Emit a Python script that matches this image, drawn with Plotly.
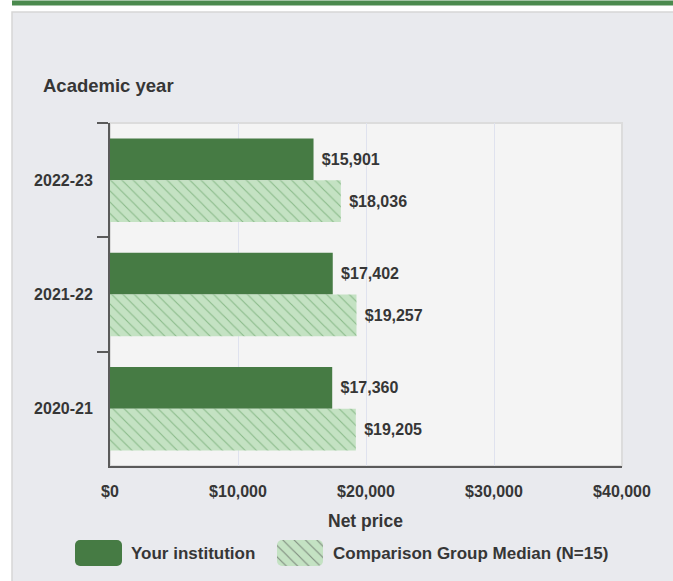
import plotly.graph_objects as go

# ---- data ----
years = ["2022-23", "2021-22", "2020-21"]
your_institution = [15901, 17402, 17360]
comparison_median = [18036, 19257, 19205]
series_names = ["Your institution", "Comparison Group Median (N=15)"]
x_tick_values = [0, 10000, 20000, 30000, 40000]
x_tick_labels = ["$0", "$10,000", "$20,000", "$30,000", "$40,000"]
x_title = "Net price"
y_title = "Academic year"

# ---- style ----
W, H = 673, 581
FONT = "Liberation Sans, Arial, sans-serif"
TXT = "#363636"
DARK = "#467b44"
LIGHT = "#c4e2c3"
DOTS = "#5a9a59"
PAGE_BG = "#e9eaee"
PLOT_BG = "#f4f4f4"
AXIS = "#5a5a5a"

def px(x):
    return x / W

def py(y):
    return 1 - y / H

plot_l, plot_r, plot_t, plot_b = 110, 622, 123, 466
tick_font = dict(family=FONT, size=16, color=TXT, weight="bold")
title_font = dict(family=FONT, size=17.5, color=TXT, weight="bold")
ytitle_font = dict(family=FONT, size=18.5, color=TXT, weight="bold")
legend_font = dict(family=FONT, size=17, color=TXT, weight="bold")
pattern_style = dict(fgcolor=DOTS, bgcolor=LIGHT, size=8, solidity=0.14,
                     fgopacity=0.55)
label_tpl = "\u2004$%{x:,.0f}"

fig = go.Figure()

fig.add_trace(go.Bar(
    y=years, x=your_institution, orientation="h", name=series_names[0],
    marker=dict(color=DARK, line=dict(width=0)),
    texttemplate=label_tpl, textposition="outside",
    textfont=tick_font, cliponaxis=False, showlegend=False,
))
fig.add_trace(go.Bar(
    y=years, x=comparison_median, orientation="h", name=series_names[1],
    marker=dict(color=LIGHT, line=dict(width=0),
                pattern=dict(shape="\\", **pattern_style)),
    texttemplate=label_tpl, textposition="outside",
    textfont=tick_font, cliponaxis=False, showlegend=False,
))

# legend swatches drawn as bars on a hidden helper axis
sw_left = [75, 277]
sw_width = [47, 46]
fig.add_trace(go.Bar(
    y=[0, 0], x=sw_width, base=sw_left, orientation="h", width=1,
    xaxis="x2", yaxis="y2", showlegend=False, hoverinfo="skip",
    marker=dict(color=[DARK, LIGHT], cornerradius=5, line=dict(width=0),
                pattern=dict(shape=["", "\\"], **pattern_style)),
))

fig.update_layout(
    width=W, height=H,
    margin=dict(l=0, r=0, t=0, b=0),
    paper_bgcolor="white",
    plot_bgcolor="rgba(0,0,0,0)",
    barmode="group", bargap=0.27, bargroupgap=0,
    font=dict(family=FONT, size=16, color=TXT),
    xaxis=dict(
        domain=[px(plot_l), px(plot_r)], range=[0, 40000],
        tickvals=x_tick_values, ticktext=x_tick_labels,
        tickfont=tick_font, showgrid=True, gridcolor="#dfe2ee", gridwidth=1,
        showline=True, linecolor=AXIS, linewidth=2, ticks="",
        zeroline=False, ticklabelstandoff=10, fixedrange=True,
        automargin=False,
    ),
    yaxis=dict(
        domain=[py(plot_b), py(plot_t)], autorange="reversed",
        type="category", categoryorder="array", categoryarray=years,
        tickfont=tick_font, showline=True, linecolor=AXIS, linewidth=2,
        ticks="outside", tickson="boundaries", ticklen=11, tickwidth=1.5,
        tickcolor=AXIS, showgrid=False, zeroline=False, fixedrange=True,
        ticklabelstandoff=12, automargin=False,
    ),
    xaxis2=dict(domain=[0, 1], range=[0, W], visible=False, fixedrange=True),
    yaxis2=dict(domain=[py(566), py(540)], range=[-0.5, 0.5], visible=False,
                anchor="x2", fixedrange=True),
    shapes=[
        # grey card with border
        dict(type="rect", xref="paper", yref="paper", x0=px(12), x1=1.02,
             y0=-0.02, y1=py(12), fillcolor=PAGE_BG,
             line=dict(color="#d6d6d6", width=1.5), layer="below"),
        # green top rule
        dict(type="rect", xref="paper", yref="paper", x0=px(12), x1=1.02,
             y0=py(5.5), y1=py(0.5), fillcolor="#4b8a4e",
             line=dict(width=0), layer="below"),
        # plot panel with light frame
        dict(type="rect", xref="x domain", yref="y domain", x0=0, x1=1,
             y0=0, y1=1, line=dict(color="#dcdcdc", width=2),
             fillcolor=PLOT_BG, layer="below"),
    ],
    annotations=[
        dict(text=y_title, xref="paper", yref="paper", x=px(41), y=py(86),
             xanchor="left", yanchor="middle", showarrow=False,
             font=ytitle_font),
        dict(text=x_title, xref="paper", yref="paper", x=px(366), y=py(521),
             xanchor="center", yanchor="middle", showarrow=False,
             font=title_font),
        dict(text=series_names[0], xref="paper", yref="paper", x=px(129),
             y=py(553), xanchor="left", yanchor="middle", showarrow=False,
             font=legend_font),
        dict(text=series_names[1], xref="paper", yref="paper", x=px(331),
             y=py(553), xanchor="left", yanchor="middle", showarrow=False,
             font=legend_font),
    ],
)

fig.write_html(
    "out.html",
    config={"displayModeBar": False, "responsive": False},
    post_script="document.body.style.margin='0';"
                "document.body.style.overflow='hidden';",
)
